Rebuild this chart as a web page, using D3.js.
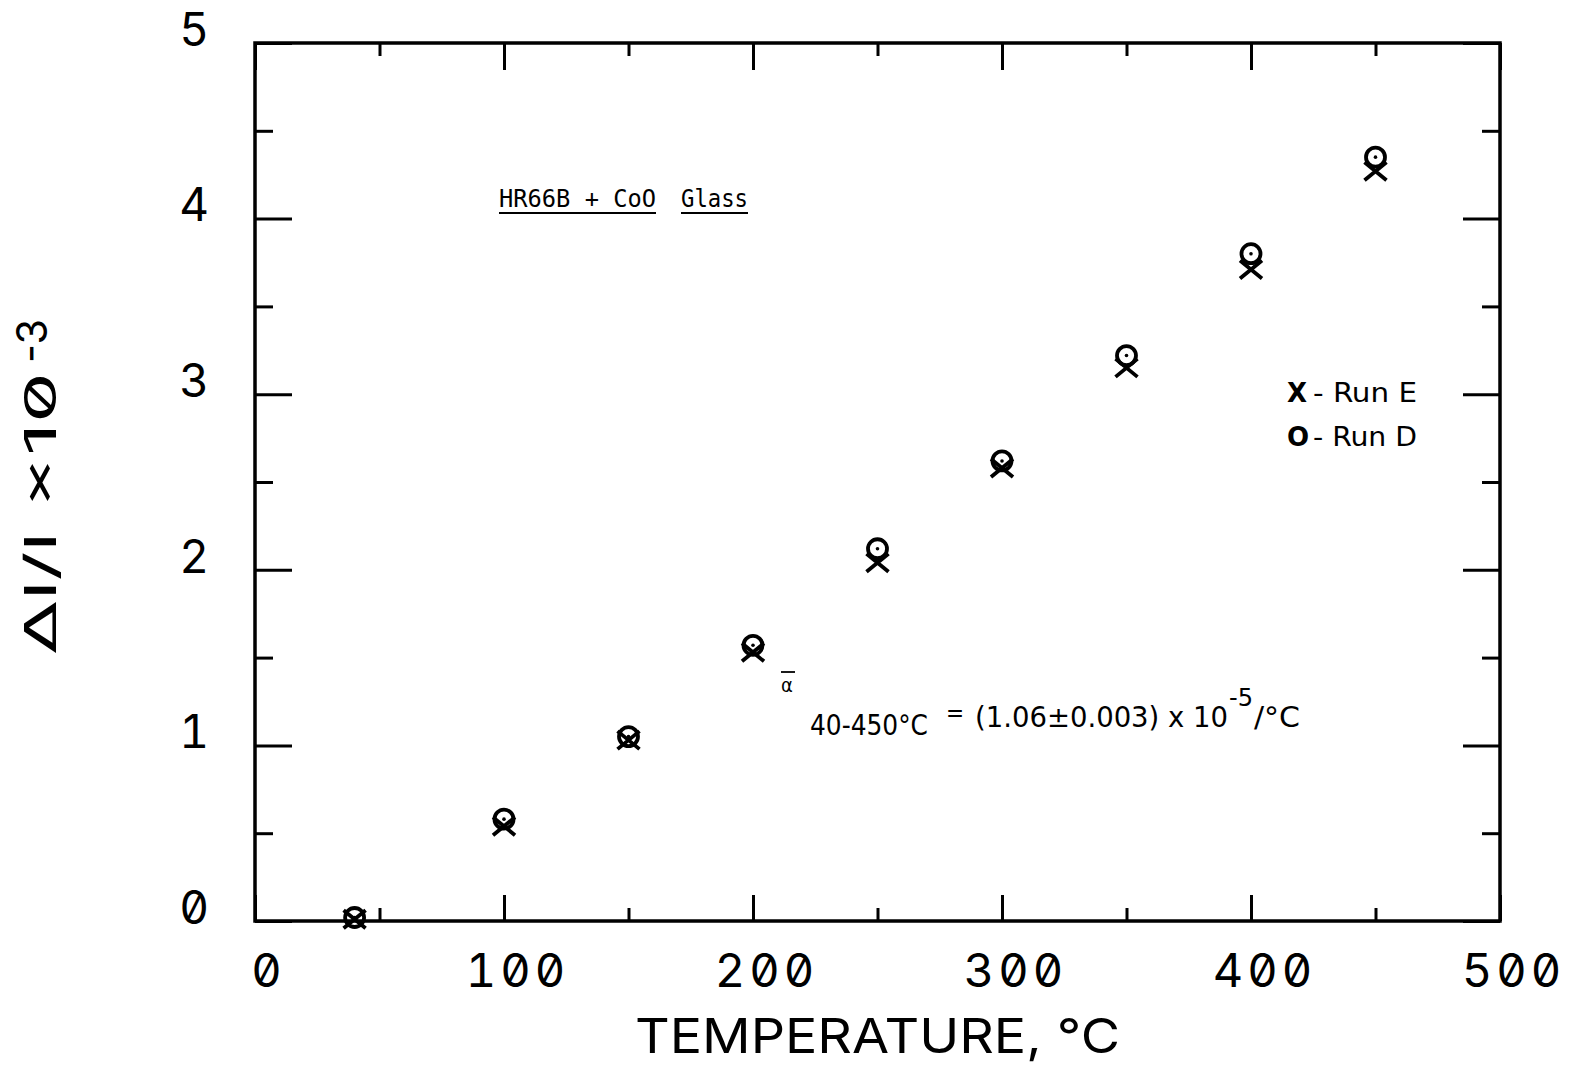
<!DOCTYPE html>
<html>
<head>
<meta charset="utf-8">
<script src="https://cdn.jsdelivr.net/npm/d3@7"></script>
<style>
  body { margin: 0; background: #fff; }
  svg text { fill: #000; }
</style>
</head>
<body>
<svg id="chart"></svg>
<script>
// temperatures (deg C) and dl/l x 10^-3 for both runs
const temps = [40, 100, 150, 200, 250, 300, 350, 400, 450];
const runE = [0.01, 0.54, 1.03, 1.53, 2.04, 2.58, 3.15, 3.71, 4.27]; // X
const runD = [0.02, 0.58, 1.05, 1.57, 2.12, 2.62, 3.22, 3.80, 4.35]; // O

const xMajor = [0, 100, 200, 300, 400, 500];
const xMinor = [50, 150, 250, 350, 450];
const yMajor = [0, 1, 2, 3, 4, 5];
const yMinor = [0.5, 1.5, 2.5, 3.5, 4.5];

const W = 1569, H = 1068;
const plotFont = "Inter, 'DejaVu Sans', sans-serif";
const typeFont = "'Liberation Sans Narrow', 'DejaVu Sans Condensed', 'DejaVu Sans', sans-serif";

const svg = d3.select("#chart").attr("width", W).attr("height", H);

const x = d3.scaleLinear().domain([0, 500]).range([255, 1500]);
const y = d3.scaleLinear().domain([0, 5]).range([921, 43]);

// ticks pointing inward on all four sides
function ticks(axis, vals, size, transform) {
  svg.append("g")
    .attr("transform", transform)
    .call(axis.tickValues(vals).tickSize(size).tickFormat(""))
    .call(g => g.select(".domain").remove())
    .call(g => g.selectAll("line").attr("stroke", "#000").attr("stroke-width", 3));
}
ticks(d3.axisBottom(x), xMajor, -26, `translate(0,${y(0)})`);
ticks(d3.axisBottom(x), xMinor, -13, `translate(0,${y(0)})`);
ticks(d3.axisTop(x), xMajor, -27, `translate(0,${y(5)})`);
ticks(d3.axisTop(x), xMinor, -13, `translate(0,${y(5)})`);
ticks(d3.axisLeft(y), yMajor, -37, `translate(${x(0)},0)`);
ticks(d3.axisLeft(y), yMinor, -18, `translate(${x(0)},0)`);
ticks(d3.axisRight(y), yMajor, -37, `translate(${x(500)},0)`);
ticks(d3.axisRight(y), yMinor, -18, `translate(${x(500)},0)`);

// frame
svg.append("rect")
  .attr("x", x(0)).attr("y", y(5))
  .attr("width", x(500) - x(0)).attr("height", y(0) - y(5))
  .attr("fill", "none").attr("stroke", "#000").attr("stroke-width", 3.5);

// tick labels
svg.append("g")
  .attr("transform", `translate(0,${y(0)})`)
  .call(d3.axisBottom(x).tickValues(xMajor).tickSize(0).tickPadding(33).tickFormat(d3.format("d")))
  .call(g => g.select(".domain").remove())
  .call(g => g.selectAll("text")
    .attr("dx", 13)
    .style("font-family", plotFont).style("font-size", "47px").style("font-weight", 400)
    .style("letter-spacing", "4px")
    .style("font-variant-numeric", "slashed-zero tabular-nums"));

svg.append("g")
  .attr("transform", `translate(${x(0)},0)`)
  .call(d3.axisLeft(y).tickValues(yMajor).tickSize(0).tickPadding(46).tickFormat(d3.format("d")))
  .call(g => g.select(".domain").remove())
  .call(g => g.selectAll("text")
    .attr("dy", "0.05em")
    .style("font-family", plotFont).style("font-size", "46px").style("font-weight", 400)
    .style("font-variant-numeric", "slashed-zero tabular-nums"));

// axis titles
svg.append("text")
  .attr("x", 635).attr("y", 1053)
  .attr("textLength", 485).attr("lengthAdjust", "spacingAndGlyphs")
  .style("font-family", plotFont).style("font-size", "48px").style("font-weight", 400)
  .text("TEMPERATURE, °C");

const yt = svg.append("g").attr("transform", "translate(56,655) rotate(-90)");
yt.append("text")
  .attr("x", 0).attr("y", 0)
  .attr("textLength", 283).attr("lengthAdjust", "spacingAndGlyphs")
  .style("font-family", plotFont).style("font-size", "44px").style("font-weight", 400)
  .style("font-variant-numeric", "slashed-zero")
  .text("Δl/l ×10");
yt.append("text")
  .attr("x", 292).attr("y", -9)
  .attr("textLength", 44).attr("lengthAdjust", "spacingAndGlyphs")
  .style("font-family", plotFont).style("font-size", "42px").style("font-weight", 400)
  .text("-3");

// markers
const pts = temps.map((t, i) => ({ t, e: runE[i], d: runD[i] }));
const mk = svg.append("g").attr("stroke", "#000").attr("fill", "none").attr("stroke-width", 3.8);

mk.selectAll("path.xm").data(pts).join("path")
  .attr("class", "xm")
  .attr("d", d => {
    const cx = x(d.t), cy = y(d.e), a = 11, b = 9;
    return `M${cx - a},${cy - b}L${cx + a},${cy + b}M${cx + a},${cy - b}L${cx - a},${cy + b}`;
  });

mk.selectAll("circle.om").data(pts).join("circle")
  .attr("class", "om")
  .attr("cx", d => x(d.t)).attr("cy", d => y(d.d)).attr("r", 9.5);

mk.selectAll("circle.dot").data(pts).join("circle")
  .attr("class", "dot")
  .attr("cx", d => x(d.t)).attr("cy", d => y(d.d)).attr("r", 1.8)
  .attr("fill", "#000").attr("stroke", "none");

// sample label, underlined in two pieces
function underlined(txt, x0, base, len) {
  const t = svg.append("text")
    .attr("x", x0).attr("y", base)
    .attr("textLength", len).attr("lengthAdjust", "spacingAndGlyphs")
    .style("font-family", "'DejaVu Sans Mono', monospace").style("font-size", "24px")
    .text(txt);
  svg.append("line")
    .attr("x1", x0).attr("x2", x0 + len)
    .attr("y1", base + 6).attr("y2", base + 6)
    .attr("stroke", "#000").attr("stroke-width", 1.8);
  return t;
}
underlined("HR66B + CoO", 499, 207, 157);
underlined("Glass", 681, 207, 67);

// legend
const legend = [
  { sym: "X", label: "- Run E", base: 402 },
  { sym: "O", label: "- Run D", base: 446 }
];
legend.forEach(l => {
  svg.append("text")
    .attr("x", 1287).attr("y", l.base)
    .style("font-family", "'DejaVu Sans', sans-serif").style("font-size", "26px").style("font-weight", "bold")
    .text(l.sym);
  svg.append("text")
    .attr("x", 1313).attr("y", l.base)
    .attr("textLength", 104).attr("lengthAdjust", "spacingAndGlyphs")
    .style("font-family", typeFont).style("font-size", "27px")
    .text(l.label);
});

// mean expansion coefficient
svg.append("line")
  .attr("x1", 781).attr("x2", 795).attr("y1", 672).attr("y2", 672)
  .attr("stroke", "#000").attr("stroke-width", 1.8);
svg.append("text")
  .attr("x", 781).attr("y", 692)
  .style("font-family", typeFont).style("font-size", "20px")
  .text("α");
svg.append("text")
  .attr("x", 810).attr("y", 735)
  .attr("textLength", 118).attr("lengthAdjust", "spacingAndGlyphs")
  .style("font-family", typeFont).style("font-size", "29px")
  .text("40-450°C");
svg.append("text")
  .attr("x", 946).attr("y", 721)
  .style("font-family", typeFont).style("font-size", "24px")
  .text("=");
svg.append("text")
  .attr("x", 975).attr("y", 727)
  .attr("textLength", 253).attr("lengthAdjust", "spacingAndGlyphs")
  .style("font-family", typeFont).style("font-size", "29px")
  .text("(1.06±0.003)  x  10");
svg.append("text")
  .attr("x", 1229).attr("y", 706)
  .attr("textLength", 24).attr("lengthAdjust", "spacingAndGlyphs")
  .style("font-family", typeFont).style("font-size", "24px")
  .text("-5");
svg.append("text")
  .attr("x", 1254).attr("y", 727)
  .attr("textLength", 46).attr("lengthAdjust", "spacingAndGlyphs")
  .style("font-family", typeFont).style("font-size", "29px")
  .text("/°C");
</script>
</body>
</html>
